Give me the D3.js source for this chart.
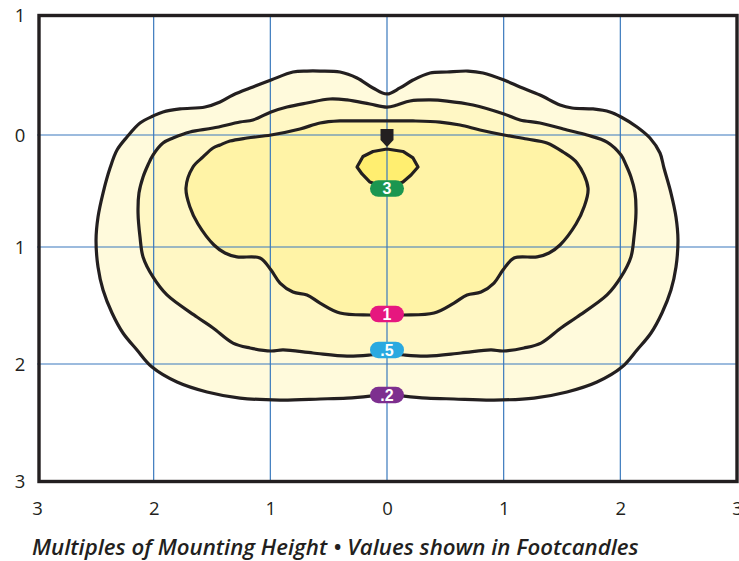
<!DOCTYPE html>
<html>
<head>
<meta charset="utf-8">
<script src="https://cdn.jsdelivr.net/npm/d3@7"></script>
<style>
  html, body { margin: 0; padding: 0; background: #fff; }
  #chart { width: 739px; height: 561px; }
</style>
</head>
<body>
<div id="chart"></div>
<script>
// Isofootcandle plot - values in multiples of mounting height
const xTicks = [-3, -2, -1, 0, 1, 2, 3];
const yTicks = [-1, 0, 1, 2, 3];

// contour levels, outer to inner
const levels = ['.2', '.5', '1', '3'];
// where the value tag sits on the centre line
const levelTagY = [2.265, 1.88, 1.573, 0.478];

const contour02 = [
  [0, -0.342], [-0.12, -0.392], [-0.257, -0.475], [-0.403, -0.525], [-0.574, -0.533],
  [-0.686, -0.533], [-0.806, -0.525], [-0.994, -0.458], [-1.149, -0.4], [-1.32, -0.333],
  [-1.431, -0.275], [-1.56, -0.233], [-1.774, -0.217], [-1.92, -0.192], [-2.006, -0.158],
  [-2.117, -0.1], [-2.229, 0.018], [-2.314, 0.134], [-2.374, 0.295], [-2.434, 0.518],
  [-2.477, 0.732], [-2.494, 0.938], [-2.477, 1.171], [-2.434, 1.368], [-2.357, 1.564],
  [-2.263, 1.735], [-2.143, 1.88], [-2.014, 2.026], [-1.8, 2.154], [-1.543, 2.239],
  [-1.26, 2.291], [-0.917, 2.308], [-0.574, 2.299], [-0.343, 2.291], [-0.146, 2.274],
  [0, 2.256],
  [0.146, 2.274], [0.343, 2.291], [0.574, 2.299], [0.917, 2.308], [1.26, 2.291],
  [1.543, 2.239], [1.8, 2.154], [2.014, 2.026], [2.143, 1.88], [2.263, 1.735],
  [2.357, 1.564], [2.434, 1.368], [2.477, 1.171], [2.494, 0.938], [2.477, 0.732],
  [2.434, 0.518], [2.374, 0.295], [2.34, 0.161], [2.254, 0.027], [2.143, -0.067],
  [2.006, -0.15], [1.911, -0.192], [1.766, -0.217], [1.586, -0.225], [1.483, -0.25],
  [1.311, -0.333], [1.14, -0.4], [1.003, -0.458], [0.823, -0.517], [0.694, -0.533],
  [0.514, -0.525], [0.369, -0.517], [0.223, -0.458], [0.111, -0.392]
];

const contour05 = [
  [0, -0.233], [-0.146, -0.258], [-0.343, -0.292], [-0.489, -0.3], [-0.686, -0.267],
  [-0.857, -0.233], [-0.994, -0.192], [-1.149, -0.125], [-1.26, -0.108], [-1.491, -0.058],
  [-1.689, -0.025], [-1.834, 0.027], [-1.92, 0.071], [-2.006, 0.179], [-2.049, 0.268],
  [-2.091, 0.375], [-2.126, 0.518], [-2.134, 0.696], [-2.117, 0.911], [-2.091, 1.085],
  [-2.006, 1.256], [-1.886, 1.41], [-1.629, 1.598], [-1.491, 1.692], [-1.32, 1.821],
  [-1.174, 1.863], [-0.994, 1.889], [-0.891, 1.88], [-0.634, 1.906], [-0.343, 1.932],
  [-0.146, 1.923], [0, 1.906],
  [0.146, 1.923], [0.343, 1.932], [0.634, 1.906], [0.891, 1.88], [0.994, 1.889],
  [1.174, 1.863], [1.32, 1.821], [1.491, 1.692], [1.629, 1.598], [1.886, 1.41],
  [2.006, 1.256], [2.091, 1.085], [2.117, 0.911], [2.134, 0.696], [2.126, 0.518],
  [2.091, 0.375], [2.049, 0.268], [2.006, 0.179], [1.886, 0.063], [1.714, 0],
  [1.543, -0.042], [1.311, -0.1], [1.14, -0.125], [1.003, -0.175], [0.737, -0.25],
  [0.514, -0.283], [0.369, -0.292], [0.197, -0.283], [0.086, -0.25]
];

const contour1 = [
  [0, -0.117], [-0.206, -0.117], [-0.403, -0.117], [-0.574, -0.1], [-0.746, -0.05],
  [-0.994, 0], [-1.2, 0.027], [-1.346, 0.054], [-1.431, 0.089], [-1.491, 0.116],
  [-1.577, 0.196], [-1.663, 0.286], [-1.723, 0.473], [-1.689, 0.643], [-1.62, 0.795],
  [-1.483, 0.982], [-1.389, 1.051], [-1.286, 1.085], [-1.089, 1.094], [-0.994, 1.197],
  [-0.917, 1.308], [-0.806, 1.385], [-0.686, 1.41], [-0.574, 1.479], [-0.403, 1.564],
  [-0.146, 1.581], [0, 1.581],
  [0.146, 1.581], [0.403, 1.564], [0.574, 1.479], [0.686, 1.41], [0.806, 1.385],
  [0.917, 1.308], [0.994, 1.197], [1.089, 1.094], [1.286, 1.085], [1.389, 1.051],
  [1.483, 0.982], [1.62, 0.795], [1.689, 0.643], [1.723, 0.473], [1.629, 0.25],
  [1.509, 0.152], [1.371, 0.071], [1.2, 0.036], [1.003, 0], [0.797, -0.042],
  [0.626, -0.083], [0.454, -0.108], [0.223, -0.117]
];

const contour3 = [
  [0, 0.125], [-0.12, 0.147], [-0.206, 0.192], [-0.257, 0.286], [-0.214, 0.348],
  [-0.146, 0.42], [0, 0.473], [0.137, 0.42], [0.206, 0.357], [0.266, 0.286],
  [0.223, 0.205], [0.137, 0.147]
];

const contours = [contour02, contour05, contour1, contour3];

// styles
const bandFill = ['#fffadc', '#fff7c4', '#fff3a6', '#ffee70'];
const tagFill = ['#7d2f8f', '#2aa9e0', '#e6177f', '#1b9650'];
const ink = '#231f20';
const gridBlue = '#3a79bd';

const width = 739, height = 561;
const svg = d3.select('#chart').append('svg')
  .attr('width', width)
  .attr('height', height)
  .style('font-family', '"Open Sans", "DejaVu Sans", sans-serif');

const x = d3.scaleLinear().domain([-3, 3]).range([37, 737]);
const y = d3.scaleLinear().domain([-1, 0, 1, 2, 3]).range([15, 135, 247, 364, 481]);

const line = d3.line()
  .x(d => x(d[0]))
  .y(d => y(d[1]))
  .curve(d3.curveCatmullRomClosed.alpha(0.5));
const polyLine = d3.line()
  .x(d => x(d[0]))
  .y(d => y(d[1]))
  .curve(d3.curveLinearClosed);

const pathFor = (d, i) => i === 3 ? polyLine(d) : line(d);

// Filled bands
svg.append('g')
  .selectAll('path')
  .data(contours)
  .enter().append('path')
  .attr('d', pathFor)
  .attr('fill', (d, i) => bandFill[i])
  .attr('stroke', 'none');

// Grid
const grid = svg.append('g');
grid.selectAll('.vgrid')
  .data(xTicks.slice(1, -1))
  .enter().append('line')
  .attr('x1', d => x(d)).attr('x2', d => x(d))
  .attr('y1', y(-1)).attr('y2', y(3))
  .attr('stroke', gridBlue)
  .attr('stroke-width', 1.2);
grid.selectAll('.hgrid')
  .data(yTicks.slice(1, -1))
  .enter().append('line')
  .attr('x1', x(-3)).attr('x2', x(3))
  .attr('y1', d => y(d)).attr('y2', d => y(d))
  .attr('stroke', gridBlue)
  .attr('stroke-width', 1.2);

// Contour outlines
svg.append('g')
  .selectAll('path')
  .data(contours)
  .enter().append('path')
  .attr('d', pathFor)
  .attr('fill', 'none')
  .attr('stroke', ink)
  .attr('stroke-width', 3.2)
  .attr('stroke-linejoin', 'round');

// Frame
svg.append('rect')
  .attr('x', x(-3) + 2)
  .attr('y', y(-1) + 0.5)
  .attr('width', x(3) - x(-3) - 2)
  .attr('height', y(3) - y(-1))
  .attr('fill', 'none')
  .attr('stroke', ink)
  .attr('stroke-width', 3.4);

// Luminaire marker
const mx = x(0), my = y(0);
svg.append('path')
  .attr('d', `M${mx - 6.5},${my - 6} L${mx + 6.5},${my - 6} L${mx + 6.5},${my + 5} L${mx},${my + 12} L${mx - 6.5},${my + 5} Z`)
  .attr('fill', ink);

// Value tags
const tags = svg.append('g')
  .selectAll('g')
  .data(levels)
  .enter().append('g')
  .attr('transform', (d, i) => `translate(${x(0)},${y(levelTagY[i])})`);
tags.append('rect')
  .attr('x', -17).attr('y', -8.3)
  .attr('width', 34).attr('height', 16.6)
  .attr('rx', 8.3).attr('ry', 8.3)
  .attr('fill', (d, i) => tagFill[i]);
tags.append('text')
  .text(d => d)
  .attr('text-anchor', 'middle')
  .attr('dy', '0.37em')
  .attr('fill', '#fff')
  .attr('font-family', '"Liberation Sans", Arial, sans-serif')
  .attr('font-weight', 'bold')
  .attr('font-size', '16px');

// Axes
const xAxis = svg.append('g')
  .call(d3.axisBottom(x).tickValues(xTicks).tickFormat(d => Math.abs(d)).tickSize(0));
xAxis.select('.domain').remove();
xAxis.selectAll('text')
  .attr('y', 508)
  .attr('dy', '0.36em')
  .attr('fill', ink)
  .attr('font-size', '18.5px')
  .attr('font-family', '"Open Sans", sans-serif');

const yAxis = svg.append('g')
  .attr('transform', 'translate(20,0)')
  .call(d3.axisLeft(y).tickValues(yTicks).tickFormat(d => Math.abs(d)).tickSize(0));
yAxis.select('.domain').remove();
yAxis.selectAll('text')
  .attr('x', 0)
  .attr('text-anchor', 'middle')
  .attr('dy', '0.36em')
  .attr('fill', ink)
  .attr('font-size', '18.5px')
  .attr('font-family', '"Open Sans", sans-serif');

// Caption
const caption = svg.append('text')
  .attr('x', 32)
  .attr('y', 555)
  .attr('fill', ink)
  .attr('font-style', 'italic')
  .attr('font-weight', 600)
  .attr('font-size', '19px')
  .text('Multiples of Mounting Height \u2022 Values shown in Footcandles');
const cw = caption.node().getComputedTextLength();
caption.attr('font-size', (19 * 607 / cw).toFixed(2) + 'px');
</script>
</body>
</html>
